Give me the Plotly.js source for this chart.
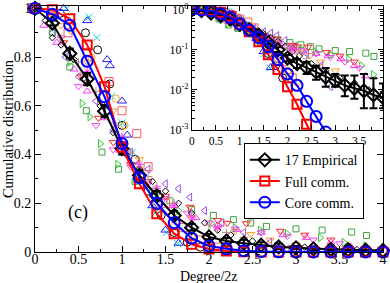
<!DOCTYPE html>
<html><head><meta charset="utf-8">
<script src="https://cdn.plot.ly/plotly-3.0.1.min.js"></script>
<style>html,body{margin:0;padding:0;background:#fff}</style>
</head><body><div id="chart" style="width:390px;height:283px"></div>
<script>
// ---- main curves (Degree/2z grid) ----
const degX = [0,0.2,0.4,0.6,0.8,1.0,1.2,1.4,1.6,1.8,2.0,2.2,2.4,2.6,2.8,3.0,3.2,3.4,3.6,3.8,4.0];
const empY = [1,0.94,0.815,0.71,0.578,0.425,0.315,0.23,0.15,0.1,0.062,0.045,0.036,0.028,0.021,0.017,0.013,0.011,0.0095,0.0075,0.0065];
const empErrPlus  = [0,0.01,0.02,0.025,0.025,0.025,0.02,0.02,0.018,0.015,0.012,0.012,0.014,0.012,0.014,0.008,0.01,0.012,0.0155,0.012,0.008];
const empErrMinus = [0,0.01,0.02,0.025,0.025,0.025,0.02,0.02,0.015,0.012,0.01,0.01,0.011,0.01,0.009,0.005,0.006,0.005,0.006,0.004,0.003];
const fullY = [1,0.995,0.958,0.85,0.678,0.43,0.28,0.157,0.075,0.032,0.012,0.0044,0.0014,0.0004,0.0001,0.00003,0.00001,0.000004,0.000002,0.000001,0.0000005];
const coreY = [1,0.976,0.931,0.783,0.637,0.445,0.305,0.2,0.12,0.057,0.025,0.013,0.0052,0.0022,0.0009,0.0003,0.0001,0.00004,0.00002,0.00001,0.000005];

// ---- individual empirical networks ----
const netX1 = [0,0.29,0.58,0.72,0.86,1.0,1.15,1.3,1.45,1.6,1.75,1.9];
const netY1 = [1,0.98,0.9,0.83,0.69,0.52,0.38,0.25,0.15,0.08,0.04,0.02];
const netX2 = [0.36,0.62,0.71,0.88,1.0,1.12,1.25,1.38,1.51,1.64];
const netY2 = [1.0,0.965,0.88,0.64,0.53,0.41,0.28,0.16,0.08,0.035];
const netX3 = [0.33,0.6,0.83,0.86,1.0,1.06,1.2,1.35,1.5,1.65];
const netY3 = [1.0,0.95,0.79,0.765,0.62,0.48,0.33,0.19,0.09,0.036];
const netX4 = [0,0.21,0.42,0.65,0.93,1.03,1.2,1.4,1.6,1.8,2.0,2.2];
const netY4 = [1,0.97,0.91,0.8,0.63,0.52,0.34,0.2,0.11,0.06,0.03,0.015];
const netX5 = [0,0.3,0.6,0.9,1.2,1.5,1.8,2.1,2.3,2.48,2.7,3.0];
const netY5 = [1,0.93,0.78,0.58,0.38,0.22,0.14,0.1,0.085,0.073,0.05,0.03];
const netX6 = [0.2,0.38,0.6,0.85,1.0,1.17,1.3,1.5,1.7,1.9,2.1];
const netY6 = [0.97,0.9,0.82,0.7,0.58,0.486,0.35,0.2,0.1,0.05,0.02];
const netX7 = [0,0.1,0.25,0.45,0.6,0.8,1.0,1.2,1.4,1.6,1.85,2.1,2.32,2.6,2.85,3.12,3.4,3.63];
const netY7 = [1,0.93,0.86,0.75,0.66,0.55,0.43,0.33,0.25,0.19,0.14,0.11,0.092,0.08,0.07,0.059,0.04,0.022];
const netX8 = [0,0.2,0.35,0.5,0.7,0.9,1.1,1.3,1.5,1.65,1.78,1.95,2.15,2.4,2.7,2.9];
const netY8 = [1,0.9,0.8,0.72,0.62,0.5,0.41,0.34,0.28,0.26,0.225,0.17,0.12,0.08,0.04,0.012];
const netX9 = [0,0.2,0.4,0.59,0.77,0.96,1.15,1.35,1.55,1.8,2.05,2.28,2.48,2.66,3.0,3.3,3.64,3.81];
const netY9 = [1,0.9,0.76,0.58,0.41,0.34,0.29,0.25,0.21,0.175,0.15,0.133,0.119,0.105,0.095,0.09,0.082,0.068];
const netX10 = [0,0.2,0.4,0.54,0.63,0.75,0.95,1.15,1.4,1.65,2.03,2.3,2.59,2.9,3.28,3.55,3.8];
const netY10 = [1,0.93,0.78,0.61,0.555,0.445,0.36,0.3,0.24,0.17,0.117,0.1,0.089,0.075,0.059,0.04,0.024];
const netX11 = [0,0.33,0.53,0.73,0.9,1.1,1.3,1.5,1.78,2.1,2.21,2.43,2.82,3.1,3.4];
const netY11 = [1,0.86,0.72,0.55,0.45,0.36,0.29,0.23,0.185,0.13,0.119,0.117,0.086,0.07,0.05];
const netX12 = [0,0.3,0.5,0.7,0.9,1.1,1.3,1.5,1.75,2.0,2.3,2.6,2.9,3.2,3.5];
const netY12 = [1,0.88,0.68,0.52,0.42,0.35,0.28,0.22,0.16,0.12,0.095,0.08,0.065,0.05,0.035];
const netX13 = [0,0.12,0.2,0.3,0.45,0.6,0.75,0.9,1.05,1.2,1.35,1.5,1.65,1.8,1.95,2.1,2.25,2.5,2.8,3.1,3.4,3.7];
const netY13 = [1,0.95,0.88,0.85,0.79,0.7,0.6,0.49,0.4,0.34,0.29,0.25,0.2,0.16,0.12,0.09,0.07,0.045,0.03,0.02,0.015,0.01];
const netX14 = [0.3,0.4,0.5,0.6,0.7,0.8,0.9,1.0,1.1,1.2,1.3,1.4,1.6,1.8,2.0,2.2,2.4];
const netY14 = [0.88,0.83,0.78,0.72,0.66,0.6,0.53,0.47,0.41,0.36,0.31,0.27,0.2,0.15,0.11,0.08,0.06];
const netX15 = [0.6,0.8,1.0,1.2,1.4,1.6,1.8,2.1];
const netY15 = [0.74,0.6,0.47,0.36,0.26,0.19,0.14,0.1];

// ---- text ----
const legendNames = ['17 Empirical','Full comm.','Core comm.'];
const xTitle = 'Degree/2z';
const yTitle = 'Cumulative distribution';
const panelLabel = '(c)';
const insetTickVals = [1,0.1,0.01,0.001];
const insetTickText = ['10<sup>0</sup>','10<sup>-1</sup>','10<sup>-2</sup>','10<sup>-3</sup>'];
const insetXTicks = [0,0.5,1,1.5,2,2.5,3,3.5];

const nets = [
  [netX1, netY1, 'circle-open', '#000000', 8],
  [netX2, netY2, 'x-thin-open', '#00d8d8', 7],
  [netX3, netY3, 'triangle-up-open', '#2020ff', 8],
  [netX4, netY4, 'circle-open', '#ffa020', 7],
  [netX5, netY5, 'triangle-down-open', '#ff9a20', 7],
  [netX6, netY6, 'square-open', '#ff5a5a', 8],
  [netX7, netY7, 'triangle-up-open', '#ff30ff', 7],
  [netX8, netY8, 'triangle-left-open', '#9a50e0', 7],
  [netX9, netY9, 'square-open', '#40a040', 6],
  [netX10, netY10, 'triangle-right-open', '#30c830', 7],
  [netX11, netY11, 'triangle-down-open', '#ff2020', 7],
  [netX12, netY12, 'triangle-down-open', '#ff40ff', 7],
  [netX13, netY13, 'diamond-open', '#000000', 5],
  [netX14, netY14, 'cross-thin-open', '#c09090', 6],
  [netX15, netY15, 'asterisk-open', '#ff40ff', 7]
];

const traces = [];
for (const [xa, ya] of [['x','y'],['x2','y2']]) {
  const main = xa === 'x';
  nets.forEach(n => traces.push({
    x: n[0], y: n[1], xaxis: xa, yaxis: ya, type: 'scatter', mode: 'markers',
    showlegend: false, hoverinfo: 'skip', cliponaxis: !main,
    marker: {symbol: n[2], color: n[3], size: n[4], line: {color: n[3], width: 1}}
  }));
  traces.push({
    x: degX, y: empY, xaxis: xa, yaxis: ya, type: 'scatter', mode: 'lines+markers',
    name: legendNames[0], showlegend: main, cliponaxis: !main,
    line: {color: '#000', width: 2},
    marker: {symbol: 'diamond-open', size: 10, color: '#000', line: {color: '#000', width: 2}},
    error_y: {type: 'data', symmetric: false, array: empErrPlus, arrayminus: empErrMinus, color: '#000', thickness: 2, width: 4}
  });
  traces.push({
    x: degX, y: fullY, xaxis: xa, yaxis: ya, type: 'scatter', mode: 'lines+markers',
    name: legendNames[1], showlegend: main, cliponaxis: !main,
    line: {color: '#ff0000', width: 2},
    marker: {symbol: 'square-open', size: 9, color: '#ff0000', line: {color: '#ff0000', width: 2}}
  });
  traces.push({
    x: degX, y: coreY, xaxis: xa, yaxis: ya, type: 'scatter', mode: 'lines+markers',
    name: legendNames[2], showlegend: main, cliponaxis: !main,
    line: {color: '#0000ff', width: 2},
    marker: {symbol: 'circle-open', size: 11, color: '#0000ff', line: {color: '#0000ff', width: 2}}
  });
}

const F = 'Liberation Serif, Times New Roman, serif';
const axBase = {
  showline: true, linecolor: '#000', linewidth: 1, mirror: 'allticks',
  ticks: 'inside', ticklen: 6, tickcolor: '#000', tickwidth: 1,
  showgrid: false, zeroline: false
};
const layout = {
  width: 390, height: 283,
  margin: {l: 35, r: 7, t: 6, b: 31},
  paper_bgcolor: '#fff', plot_bgcolor: '#fff',
  font: {family: F, color: '#000'},
  showlegend: true,
  xaxis: Object.assign({}, axBase, {
    range: [0, 4], domain: [0, 1], tick0: 0, dtick: 0.5,
    minor: {ticks: 'inside', dtick: 0.25, ticklen: 3, tickcolor: '#000'},
    tickfont: {family: F, size: 14}, ticklabelstandoff: -6
  }),
  yaxis: Object.assign({}, axBase, {
    range: [0, 1.01], domain: [0, 1], tick0: 0, dtick: 0.2,
    minor: {ticks: 'inside', dtick: 0.1, ticklen: 3, tickcolor: '#000'},
    tickfont: {family: F, size: 14},
    title: {text: yTitle, font: {family: F, size: 14.5}, standoff: 4}
  }),
  xaxis2: Object.assign({}, axBase, {
    anchor: 'y2', range: [0, 4], domain: [0.451, 1],
    tickvals: insetXTicks, ticklen: 5,
    minor: {ticks: 'inside', dtick: 0.25, ticklen: 3, tickcolor: '#000'},
    tickfont: {family: F, size: 11.5}
  }),
  yaxis2: Object.assign({}, axBase, {
    anchor: 'x2', type: 'log', range: [-3, 0.087], domain: [0.4953, 1],
    tickvals: insetTickVals, ticktext: insetTickText, ticklen: 5,
    minor: {ticks: 'inside', dtick: 'D1', ticklen: 3, tickcolor: '#000'},
    tickfont: {family: F, size: 12}
  }),
  legend: {
    x: 0.6, y: 0.442, xanchor: 'left', yanchor: 'top',
    bgcolor: '#fff', bordercolor: '#000', borderwidth: 1,
    font: {family: F, size: 14}, tracegroupgap: 0
  },
  annotations: [
    {xref: 'x', yref: 'y', x: 0.49, y: 0.163, text: panelLabel, showarrow: false,
     font: {family: F, size: 18}},
    {xref: 'paper', yref: 'paper', x: 0.5, y: -0.1, xanchor: 'center', yanchor: 'middle',
     text: xTitle, showarrow: false, font: {family: F, size: 14}}
  ]
};
Plotly.newPlot('chart', traces, layout, {displayModeBar: false, staticPlot: true});
</script></body></html>
